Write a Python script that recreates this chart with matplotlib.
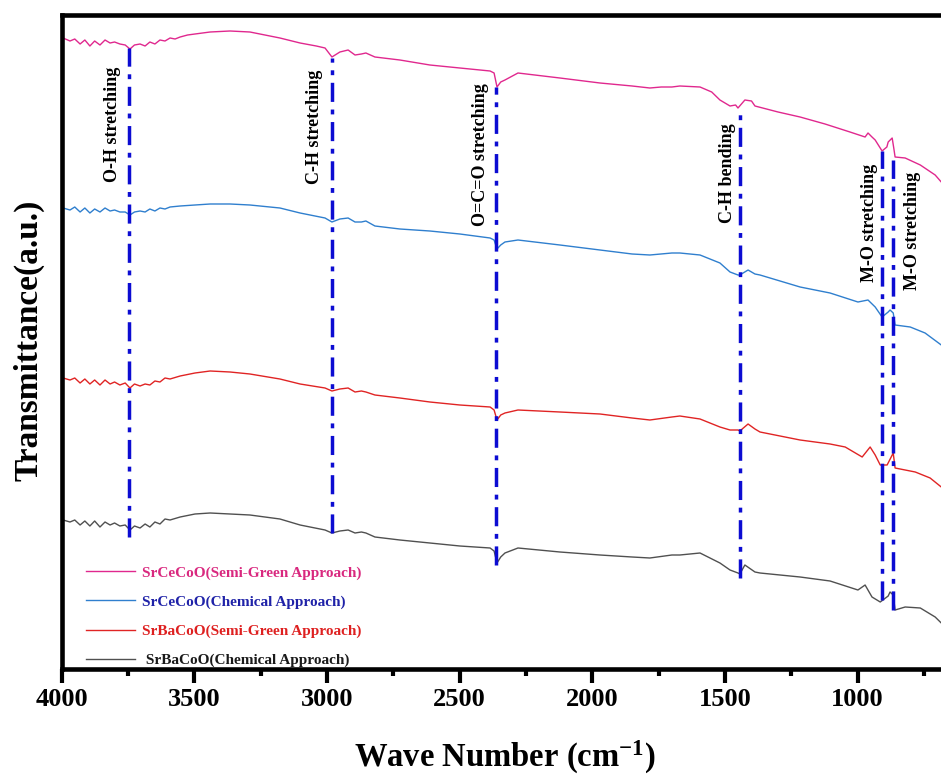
import numpy as np
import matplotlib
matplotlib.use('Agg')
import matplotlib.pyplot as plt
from matplotlib.ticker import MultipleLocator

plt.rcParams['font.family'] = 'Liberation Serif'
plt.rcParams['font.weight'] = 'bold'
plt.rcParams['mathtext.fontset'] = 'custom'
plt.rcParams['mathtext.rm'] = 'Liberation Serif:bold'
plt.rcParams['mathtext.default'] = 'rm'

# FTIR spectra, wave number (cm-1) vs transmittance (a.u., stacked)
wn_srce_green = [3994, 3968, 3950, 3930, 3912, 3893, 3875, 3855, 3836, 3817, 3800, 3780, 3760, 3742,
                 3725, 3704, 3685, 3667, 3648, 3629, 3610, 3591, 3572, 3553, 3525, 3497, 3440, 3365,
                 3290, 3177, 3101, 3040, 3007, 2981, 2951, 2920, 2894, 2870, 2853, 2819, 2725, 2612,
                 2499, 2385, 2370, 2359, 2345, 2329, 2280, 2122, 1971, 1850, 1783, 1740, 1700, 1670,
                 1594, 1550, 1519, 1481, 1460, 1451, 1425, 1400, 1387, 1300, 1217, 1123, 1029, 972,
                 961, 946, 934, 908, 890, 885, 870, 864, 859, 821, 764, 708, 685]
t_srce_green = [63.2, 62.9, 63.1, 62.6, 63.0, 62.4, 62.9, 62.5, 63.0, 62.7, 62.8, 62.6, 62.5, 62.1,
                62.5, 62.6, 62.4, 62.8, 62.6, 63.0, 62.9, 63.2, 63.1, 63.3, 63.5, 63.6, 63.8, 63.9,
                63.8, 63.2, 62.7, 62.4, 62.2, 61.3, 61.8, 62.0, 61.5, 61.6, 61.7, 61.3, 61.0, 60.5,
                60.2, 59.9, 59.7, 58.3, 58.8, 59.0, 59.7, 59.2, 58.7, 58.4, 58.2, 58.3, 58.3, 58.4,
                58.3, 57.8, 57.0, 56.4, 56.5, 56.2, 57.0, 56.9, 56.4, 55.8, 55.3, 54.6, 53.8, 53.3,
                53.7, 53.3, 53.0, 51.9, 52.3, 52.8, 53.2, 52.2, 51.3, 51.2, 50.5, 49.5, 48.8]

wn_srce_chem = [3994, 3968, 3950, 3930, 3912, 3893, 3875, 3855, 3836, 3817, 3800, 3780, 3760, 3742,
                3725, 3704, 3685, 3667, 3648, 3629, 3610, 3591, 3553, 3497, 3440, 3365, 3290, 3177,
                3101, 3007, 2981, 2951, 2920, 2894, 2870, 2853, 2819, 2725, 2612, 2499, 2385, 2370,
                2359, 2345, 2329, 2280, 2122, 1971, 1850, 1783, 1700, 1670, 1594, 1519, 1481, 1451,
                1444, 1413, 1387, 1368, 1217, 1104, 999, 961, 934, 908, 885, 878, 866, 859, 802,
                746, 685]
t_srce_chem = [46.2, 46.0, 46.3, 45.8, 46.2, 45.7, 46.1, 45.8, 46.2, 45.9, 46.0, 45.8, 45.8, 45.5,
               45.8, 45.9, 45.8, 46.1, 45.9, 46.2, 46.1, 46.3, 46.4, 46.5, 46.6, 46.6, 46.5, 46.2,
               45.7, 45.2, 44.8, 45.1, 45.2, 44.8, 44.8, 44.9, 44.4, 44.1, 43.9, 43.6, 43.2, 43.0,
               42.1, 42.5, 42.8, 43.0, 42.5, 42.0, 41.6, 41.5, 41.7, 41.7, 41.5, 40.7, 39.8, 39.5,
               39.5, 40.0, 39.6, 39.5, 38.3, 37.7, 36.8, 37.0, 36.3, 35.3, 35.8, 36.0, 35.7, 34.5,
               34.3, 33.7, 32.5]

wn_srba_green = [3994, 3968, 3950, 3930, 3912, 3893, 3875, 3855, 3836, 3817, 3800, 3780, 3760, 3742,
                 3725, 3704, 3685, 3667, 3648, 3629, 3610, 3591, 3553, 3497, 3440, 3365, 3290, 3177,
                 3101, 3007, 2981, 2951, 2920, 2894, 2870, 2853, 2819, 2725, 2612, 2499, 2385, 2370,
                 2359, 2345, 2329, 2280, 2122, 1971, 1850, 1783, 1700, 1670, 1594, 1519, 1481, 1451,
                 1444, 1413, 1387, 1368, 1217, 1104, 1047, 983, 953, 934, 915, 889, 866, 859, 783,
                 727, 685]
t_srba_green = [29.2, 29.0, 29.2, 28.7, 29.1, 28.6, 29.0, 28.5, 29.0, 28.6, 28.8, 28.5, 28.7, 28.2,
                28.6, 28.4, 28.6, 28.5, 28.9, 28.8, 29.2, 29.1, 29.4, 29.7, 29.9, 29.8, 29.6, 29.1,
                28.6, 28.2, 27.9, 28.1, 28.2, 27.8, 27.9, 27.8, 27.5, 27.2, 26.8, 26.5, 26.3, 26.0,
                25.0, 25.5, 25.7, 26.0, 25.8, 25.6, 25.2, 25.0, 25.3, 25.4, 25.1, 24.3, 24.0, 24.0,
                23.9, 24.6, 24.1, 23.8, 23.0, 22.6, 22.3, 21.3, 22.3, 21.5, 20.5, 20.5, 21.7, 20.2,
                19.8, 19.2, 18.3]

wn_srba_chem = [3994, 3968, 3950, 3930, 3912, 3893, 3875, 3855, 3836, 3817, 3800, 3780, 3760, 3742,
                3725, 3704, 3685, 3667, 3648, 3629, 3610, 3591, 3553, 3497, 3440, 3365, 3290, 3177,
                3101, 3007, 2981, 2951, 2920, 2894, 2870, 2853, 2819, 2725, 2612, 2499, 2385, 2370,
                2359, 2345, 2329, 2280, 2122, 1971, 1850, 1783, 1700, 1670, 1594, 1519, 1481, 1451,
                1444, 1425, 1387, 1368, 1217, 1104, 999, 972, 946, 915, 885, 878, 866, 859, 821,
                764, 708, 685]
t_srba_chem = [15.0, 14.8, 15.0, 14.5, 14.9, 14.4, 14.9, 14.3, 14.8, 14.5, 14.7, 14.4, 14.5, 14.0,
               14.4, 14.2, 14.6, 14.3, 14.8, 14.6, 15.1, 15.0, 15.3, 15.6, 15.7, 15.6, 15.5, 15.1,
               14.5, 14.0, 13.7, 13.9, 14.0, 13.7, 13.8, 13.7, 13.3, 13.0, 12.7, 12.4, 12.2, 11.9,
               10.7, 11.3, 11.7, 12.2, 11.8, 11.5, 11.3, 11.2, 11.5, 11.5, 11.7, 10.7, 10.0, 9.7,
               9.6, 10.5, 9.8, 9.7, 9.3, 8.9, 8.0, 8.5, 7.3, 6.8, 7.4, 7.8, 7.5, 6.0, 6.3,
               6.2, 5.3, 4.7]

labels = ['SrCeCoO(Semi-Green Approach)', 'SrCeCoO(Chemical Approach)',
          'SrBaCoO(Semi-Green Approach)', ' SrBaCoO(Chemical Approach)']
line_colors = ['#e0288e', '#2f7fce', '#e02424', '#505050']
text_colors = ['#d9287f', '#1f22a8', '#de2020', '#1a1a1a']

# band assignments: position, label, extent of the marker line
band_wn = [3744, 2979, 2361, 1445, 907, 865]
band_names = ['O-H stretching', 'C-H stretching', 'O=C=O stretching', 'C-H bending',
              'M-O stretching', 'M-O stretching']
band_top = [62.2, 61.2, 58.3, 56.2, 51.9, 51.0]
band_bottom = [13.3, 13.7, 10.5, 9.2, 7.0, 6.0]
band_text_wn = [3806, 3045, 2423, 1489, 957, 795]
band_text_y = [54.6, 54.3, 51.5, 49.7, 44.7, 43.9]

fig = plt.figure(figsize=(9.41, 7.77), dpi=100)
ax = fig.add_axes([61.5/941, 108/777, 879.5/941, 654/777])

series = [(wn_srce_green, t_srce_green), (wn_srce_chem, t_srce_chem),
          (wn_srba_green, t_srba_green), (wn_srba_chem, t_srba_chem)]
for (wn, t), lab, c in zip(series, labels, line_colors):
    ax.plot(wn, t, color=c, lw=1.0, label=lab)

for i in range(len(band_wn)):
    ax.plot([band_wn[i], band_wn[i]], [band_bottom[i], band_top[i]], color='#0c0cd2',
            lw=2.5, linestyle=(0, (5.5, 2.2, 1.4, 2.2)))
    ax.text(band_text_wn[i], band_text_y[i], band_names[i], rotation=90, ha='center',
            va='center', fontsize=13, fontweight='bold')

# spectrum runs past the right edge, so no right-hand frame
ax.set_xlim(4000, 686)
ax.set_ylim(0.1, 65.5)
ax.spines['right'].set_visible(False)
ax.xaxis.set_major_locator(MultipleLocator(500))
ax.xaxis.set_minor_locator(MultipleLocator(250))
ax.tick_params(axis='x', which='major', direction='out', length=10, width=3,
               labelsize=19, pad=4)
ax.tick_params(axis='x', which='minor', direction='out', length=5, width=3)
ax.set_yticks([])
for sp in ax.spines.values():
    sp.set_linewidth(3.3)

ax.set_xlabel('Wave Number (cm$^{-1}$)', fontsize=23.5, fontweight='bold')
ax.xaxis.set_label_coords(0.504, -0.107)
ax.set_ylabel('Transmittance(a.u.)', fontsize=24, fontweight='bold')
ax.yaxis.set_label_coords(-0.019, 0.503)

leg = ax.legend(loc='upper left', bbox_to_anchor=(86/941, 1 - 566/777),
                bbox_transform=fig.transFigure, frameon=False, fontsize=11,
                handlelength=3.2, handletextpad=0.45, labelspacing=1.0,
                borderpad=0, borderaxespad=0)
for txt, c in zip(leg.get_texts(), text_colors):
    txt.set_color(c)

fig.savefig('out.png', dpi=100)
